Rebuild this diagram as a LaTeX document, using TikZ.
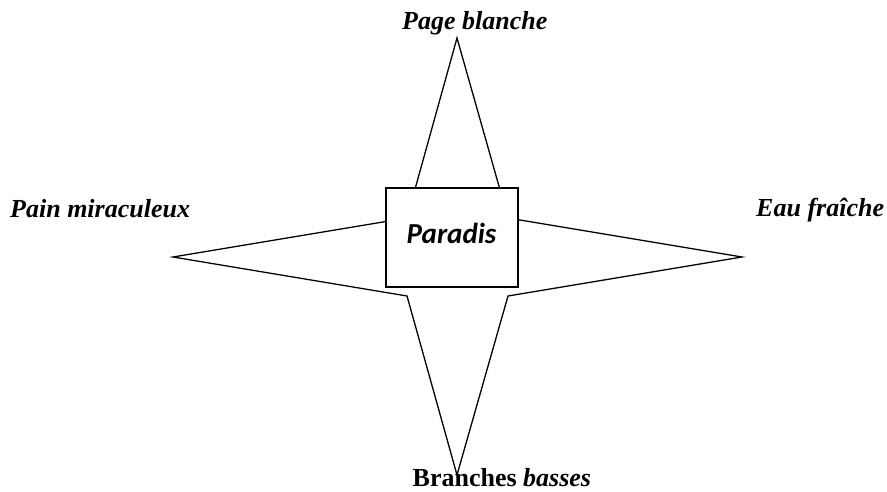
\documentclass[tikz,border=0pt]{standalone}
\usepackage{fontspec}
\setmainfont{Liberation Serif}
\newfontfamily\boxfont{Carlito}
\tikzset{
  lbl/.style={inner sep=0pt, font=\fontsize{26}{30}\selectfont\bfseries\itshape},
  starline/.style={draw=black, line width=1.3pt, line join=miter, fill=white},
  boxline/.style={draw=black, line width=1.6pt, fill=white}
}
\begin{document}
\begin{tikzpicture}[x=1pt,y=-1pt]
\useasboundingbox (0,0) rectangle (887,492);
% star
\coordinate (T) at (457,38);
\coordinate (R) at (742,257);
\coordinate (B) at (457,475);
\coordinate (L) at (173,257);
\coordinate (ul) at (407,218);
\coordinate (ur) at (508,218);
\coordinate (lr) at (508,296);
\coordinate (ll) at (407,296);
\draw[starline] (T) -- (ur) -- (R) -- (lr) -- (B) -- (ll) -- (L) -- (ul) -- cycle;
% box
\node[boxline, minimum width=132pt, minimum height=99pt, inner sep=0pt, anchor=north west] (box) at (385,187) {};
\node[inner sep=0pt, font=\boxfont\fontsize{29}{32}\selectfont\bfseries\itshape] (par) at (451.5,233) {Paradis};
% labels
\node[lbl, anchor=base west] (top) at (402,29.3) {Page blanche};
\node[lbl, anchor=base west] (left) at (10,218) {Pain miraculeux};
\node[lbl, anchor=base west] (right) at (756,216) {Eau fraîche};
\node[lbl, anchor=base west] (bottom) at (412.5,486.5) {\upshape Branches \itshape basses};
\end{tikzpicture}
\end{document}
